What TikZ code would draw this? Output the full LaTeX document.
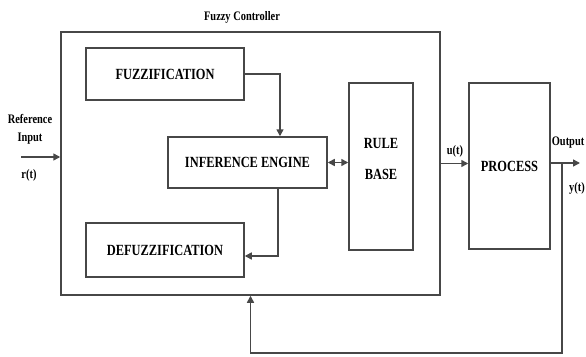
\documentclass[tikz,border=0pt]{standalone}
\usepackage{fontspec}
\usepackage{graphicx}
\setmainfont{Liberation Serif}
\usetikzlibrary{arrows.meta,calc}
\newcommand{\sqz}[1]{\scalebox{0.8}[1]{#1}}
\begin{document}
\begin{tikzpicture}[x=1pt,y=-1pt,
  line width=1.5pt,
  ln/.style={draw=black!72,line width=1.5pt},
  blockbox/.style={ln,inner sep=0pt,rectangle,font=\fontsize{15.5}{17}\selectfont\bfseries},
  lbl/.style={inner sep=0pt,font=\fontsize{13}{14}\selectfont\bfseries},
  arr/.style={ln,-{Triangle[length=7pt,width=7pt]}},
  darr/.style={ln,{Triangle[length=7pt,width=7pt]}-{Triangle[length=7pt,width=7pt]}}]
\useasboundingbox (0,0) rectangle (586,356);
% outer controller box
\node[blockbox,minimum width=379pt,minimum height=263pt] (outer) at (250.5,163.5) {};
\node[lbl] (title) at (242,17) {\sqz{Fuzzy Controller}};
% blocks
\node[blockbox,minimum width=158pt,minimum height=52pt] (fuzz) at (165,74) {\sqz{FUZZIFICATION}};
\node[blockbox,minimum width=159pt,minimum height=51pt] (inf) at (247.5,162.5) {\sqz{INFERENCE ENGINE}};
\node[blockbox,minimum width=158pt,minimum height=54pt] (defuzz) at (165,250) {\sqz{DEFUZZIFICATION}};
\node[blockbox,minimum width=64pt,minimum height=167pt] (rule) at (381,166.5) {};
\node[inner sep=0pt,align=center,font=\fontsize{15.5}{17}\selectfont\bfseries] (rulelbl) at (381,159) {\sqz{RULE}\\[2.1ex]\sqz{BASE}};
\node[blockbox,minimum width=81pt,minimum height=166pt] (proc) at (509.5,166) {\sqz{PROCESS}};
% internal connectors
\draw[arr] (fuzz.east) -| ([xshift=32.5pt]inf.north);
\draw[arr] ([xshift=30.5pt]inf.south) |- ([yshift=-6pt]defuzz.east);
\draw[darr] (inf.east) -- (inf.east -| rule.west);
% input
\coordinate (in) at (21,157);
\draw[arr] (in) -- (in -| outer.west);
\node[lbl] (reflbl) at (30,119) {\sqz{Reference}};
\node[lbl] (inlbl) at (30,139) {\sqz{Input}};
\node[lbl] (rlbl) at (29,175) {\sqz{r(t)}};
% u(t)
\draw[arr] (outer.east) -- (outer.east -| proc.west);
\node[lbl] (ulbl) at (455,151) {\sqz{u(t)}};
% output
\coordinate (out) at (580,163);
\draw[arr] (proc.east |- out) -- (out);
\node[lbl,anchor=east] (outlbl) at (585,143) {\sqz{Output}};
\node[lbl] (ylbl) at (577,188) {\sqz{y(t)}};
% feedback
\coordinate (tap) at (562,163);
\coordinate (fbl) at (562,353);
\draw[arr] (tap) -- (fbl) -| (outer.south);
\end{tikzpicture}
\end{document}
